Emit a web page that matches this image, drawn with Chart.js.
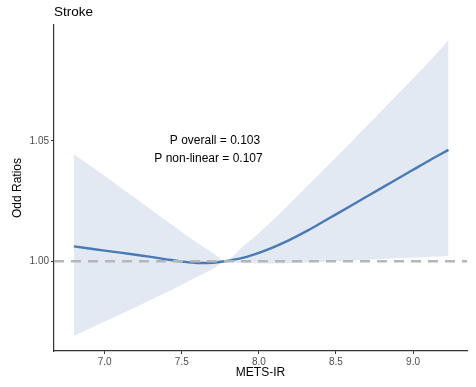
<!DOCTYPE html>
<html>
<head>
<meta charset="utf-8">
<script src="https://cdn.jsdelivr.net/npm/chart.js@4.4.1/dist/chart.umd.min.js"></script>
<style>
  html, body { margin: 0; padding: 0; background: #ffffff; }
  #wrap { width: 476px; height: 387px; }
</style>
</head>
<body>
<div id="wrap"><canvas id="c" width="476" height="387"></canvas></div>
<script>
// METS-IR grid and spline estimates of the odds ratio for stroke
const metsIr = [6.8, 6.9, 7.0, 7.1, 7.2, 7.3, 7.4, 7.5, 7.6, 7.7, 7.78, 7.9, 8.0, 8.1, 8.2, 8.3, 8.4, 8.5, 8.6, 8.7, 8.8, 8.9, 9.0, 9.1, 9.23];
const oddsRatio = [1.0062, 1.0053, 1.0044, 1.0036, 1.0027, 1.0018, 1.0008, 0.9999, 0.9993, 0.9994, 1.0000, 1.0015, 1.0035, 1.0060, 1.0089, 1.0122, 1.0158, 1.0195, 1.0232, 1.0269, 1.0306, 1.0343, 1.0380, 1.0417, 1.0463];
const upperCI = [1.0445, 1.0400, 1.0354, 1.0308, 1.0262, 1.0215, 1.0168, 1.0122, 1.0077, 1.0035, 1.0003, 1.0063, 1.0117, 1.0177, 1.0240, 1.0304, 1.0368, 1.0432, 1.0497, 1.0562, 1.0628, 1.0694, 1.0760, 1.0826, 1.0920];
const lowerCI = [0.9690, 0.9720, 0.9750, 0.9779, 0.9809, 0.9840, 0.9870, 0.9902, 0.9936, 0.9968, 0.9998, 0.9993, 0.9991, 0.9991, 0.9992, 0.9994, 0.9997, 1.0000, 1.0003, 1.0006, 1.0009, 1.0012, 1.0015, 1.0018, 1.0022];

const xTicks = [7.0, 7.5, 8.0, 8.5, 9.0];
const yTicks = [1.00, 1.05];
const xRange = [6.671, 9.35];
const yRange = [0.9627, 1.0982];
const referenceOR = 1.0;
const pValueLines = ['P overall = 0.103', 'P non-linear = 0.107'];

const toPoints = ys => metsIr.map((x, i) => ({ x: x, y: ys[i] }));

// Text block with the spline test p-values
const pValuePlugin = {
  id: 'pValues',
  afterDatasetsDraw(chart) {
    const ctx = chart.ctx;
    ctx.save();
    ctx.fillStyle = '#000000';
    ctx.font = '12px "Liberation Sans", Arial, sans-serif';
    ctx.textAlign = 'center';
    ctx.textBaseline = 'middle';
    ctx.fillText(pValueLines[0], 215, 141);
    ctx.fillText(pValueLines[1], 208.5, 159);
    ctx.restore();
  }
};

const fontFamily = '"Liberation Sans", Arial, sans-serif';

new Chart(document.getElementById('c'), {
  type: 'line',
  data: {
    datasets: [
      {
        label: 'upper',
        data: toPoints(upperCI),
        borderWidth: 0,
        pointRadius: 0,
        fill: '+1',
        backgroundColor: '#e3e9f2',
        cubicInterpolationMode: 'monotone',
        order: 3
      },
      {
        label: 'lower',
        data: toPoints(lowerCI),
        borderWidth: 0,
        pointRadius: 0,
        fill: false,
        cubicInterpolationMode: 'monotone',
        order: 3
      },
      {
        label: 'OR',
        data: toPoints(oddsRatio),
        borderColor: '#4a7ab5',
        borderWidth: 2.4,
        pointRadius: 0,
        fill: false,
        cubicInterpolationMode: 'monotone',
        order: 2
      },
      {
        label: 'reference',
        data: [{ x: xRange[0], y: referenceOR }, { x: xRange[1], y: referenceOR }],
        borderColor: '#b3b7b7',
        borderWidth: 2.4,
        borderDash: [10, 7],
        pointRadius: 0,
        fill: false,
        order: 1
      }
    ]
  },
  options: {
    responsive: false,
    animation: false,
    devicePixelRatio: 1,
    layout: { padding: { left: 0, right: 9, top: 0, bottom: 0 } },
    plugins: {
      legend: { display: false },
      tooltip: { enabled: false },
      title: {
        display: true,
        text: 'Stroke',
        align: 'start',
        fullSize: false,
        color: '#000000',
        font: { family: fontFamily, size: 13.5, weight: 'normal', lineHeight: 1.2 },
        padding: { top: 4, bottom: 4.8 }
      }
    },
    scales: {
      x: {
        type: 'linear',
        min: xRange[0],
        max: xRange[1],
        afterBuildTicks: s => { s.ticks = xTicks.map(v => ({ value: v })); },
        afterFit: s => { s.height = 36; },
        ticks: {
          color: '#4d4d4d',
          font: { family: fontFamily, size: 10 },
          padding: 2,
          maxRotation: 0,
          callback: v => v.toFixed(1)
        },
        grid: { display: true, drawOnChartArea: false, drawTicks: true, tickLength: 3, color: '#333333', lineWidth: 1 },
        border: { display: true, color: '#333333', width: 1.2 },
        title: {
          display: true,
          text: 'METS-IR',
          color: '#000000',
          font: { family: fontFamily, size: 12 },
          padding: { top: 0, bottom: 7 }
        }
      },
      y: {
        type: 'linear',
        min: yRange[0],
        max: yRange[1],
        afterBuildTicks: s => { s.ticks = yTicks.map(v => ({ value: v })); },
        afterFit: s => { s.width = 54; },
        ticks: {
          color: '#4d4d4d',
          font: { family: fontFamily, size: 10 },
          padding: 2,
          callback: v => v.toFixed(2)
        },
        grid: { display: true, drawOnChartArea: false, drawTicks: true, tickLength: 3, color: '#333333', lineWidth: 1 },
        border: { display: true, color: '#333333', width: 1.2 },
        title: {
          display: true,
          text: 'Odd Ratios',
          color: '#000000',
          font: { family: fontFamily, size: 12 },
          padding: { top: 10, bottom: 0 }
        }
      }
    }
  },
  plugins: [pValuePlugin]
});
</script>
</body>
</html>
